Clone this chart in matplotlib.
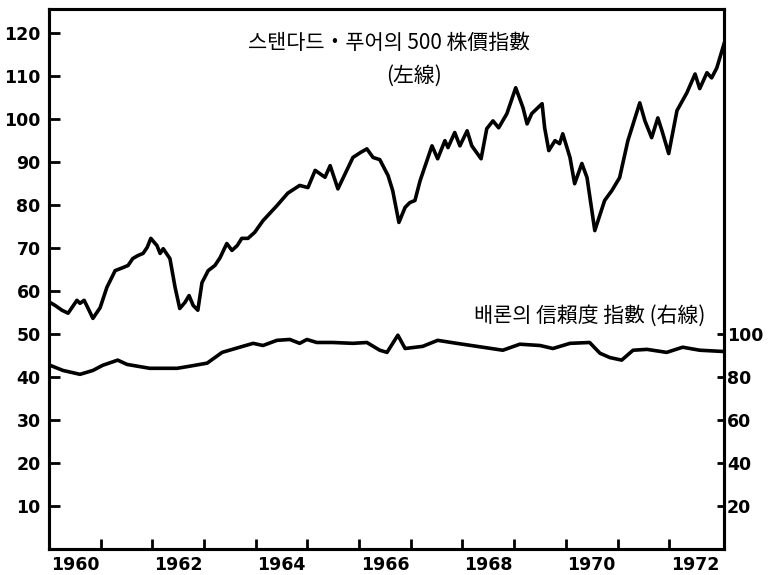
import numpy as np
import matplotlib
matplotlib.use('Agg')
import matplotlib.pyplot as plt

# S&P 500 index (left axis)
sp_years = [1960.02, 1960.12, 1960.25, 1960.37, 1960.54, 1960.60, 1960.68, 1960.75, 1960.85, 1960.99,
            1961.12, 1961.28, 1961.43, 1961.53, 1961.62, 1961.72, 1961.82, 1961.90, 1961.97, 1962.09,
            1962.15, 1962.21, 1962.34, 1962.44, 1962.53, 1962.63, 1962.71, 1962.79, 1962.88, 1962.96,
            1963.08, 1963.21, 1963.31, 1963.44, 1963.54, 1963.64, 1963.73, 1963.85, 1963.98, 1964.14,
            1964.41, 1964.62, 1964.85, 1965.01, 1965.15, 1965.34, 1965.44, 1965.59, 1965.88, 1966.02,
            1966.15, 1966.27, 1966.40, 1966.56, 1966.65, 1966.77, 1966.89, 1966.98, 1967.08, 1967.18,
            1967.41, 1967.52, 1967.66, 1967.72, 1967.85, 1967.95, 1968.09, 1968.18, 1968.36, 1968.47,
            1968.59, 1968.70, 1968.86, 1969.03, 1969.17, 1969.25, 1969.34, 1969.54, 1969.59, 1969.67,
            1969.79, 1969.88, 1969.94, 1970.08, 1970.17, 1970.31, 1970.41, 1970.56, 1970.75, 1970.89,
            1971.04, 1971.20, 1971.43, 1971.53, 1971.66, 1971.78, 1971.86, 1971.99, 1972.15, 1972.34,
            1972.50, 1972.59, 1972.73, 1972.82, 1972.92, 1973.02, 1973.06]
sp_values = [57.3, 56.6, 55.5, 54.8, 57.8, 57.1, 57.8, 56.1, 53.6, 56.1,
             60.8, 64.7, 65.4, 65.9, 67.5, 68.2, 68.7, 70.1, 72.2, 70.5,
             68.7, 69.8, 67.5, 60.8, 55.9, 57.3, 58.9, 56.6, 55.5, 61.9,
             64.7, 65.9, 67.7, 71.0, 69.4, 70.5, 72.2, 72.2, 73.6, 76.3,
             79.8, 82.7, 84.5, 84.0, 88.0, 86.4, 89.1, 83.7, 91.0, 92.1,
             93.0, 91.0, 90.5, 86.8, 83.3, 75.9, 79.4, 80.5, 81.0, 85.6,
             93.7, 90.7, 94.9, 93.3, 96.8, 93.7, 97.2, 93.7, 90.7, 97.7,
             99.5, 97.9, 101.2, 107.2, 102.6, 98.8, 101.2, 103.5, 97.9, 92.6,
             94.9, 94.2, 96.5, 91.0, 84.9, 89.6, 86.3, 74.0, 81.0, 83.3,
             86.3, 94.9, 103.7, 99.5, 95.6, 100.2, 97.2, 91.9, 101.9, 106.0,
             110.4, 107.0, 110.7, 109.5, 111.8, 115.8, 117.4]

# Barron's confidence index (right axis)
conf_years = [1960.02, 1960.27, 1960.60, 1960.85, 1961.04, 1961.33, 1961.51, 1961.95, 1962.48, 1962.73,
              1963.06, 1963.35, 1963.69, 1963.95, 1964.14, 1964.41, 1964.66, 1964.85, 1964.99, 1965.18,
              1965.49, 1965.88, 1966.15, 1966.40, 1966.54, 1966.75, 1966.89, 1967.23, 1967.52, 1967.89,
              1968.28, 1968.78, 1969.11, 1969.50, 1969.75, 1970.08, 1970.46, 1970.66, 1970.85, 1971.08,
              1971.30, 1971.57, 1971.95, 1972.26, 1972.59, 1973.06]
conf_values = [85.4, 83.0, 81.2, 83.0, 85.4, 87.8, 85.8, 84.0, 84.0, 85.0,
               86.4, 91.4, 93.8, 95.6, 94.6, 97.0, 97.4, 95.6, 97.4, 96.0,
               96.0, 95.6, 96.0, 92.4, 91.4, 99.4, 93.2, 94.2, 97.0, 95.6,
               94.2, 92.4, 95.2, 94.6, 93.2, 95.6, 96.0, 91.0, 89.0, 87.8,
               92.4, 92.8, 91.4, 93.8, 92.4, 91.8]

left_ticks = [10, 20, 30, 40, 50, 60, 70, 80, 90, 100, 110, 120]
right_ticks = [20, 40, 60, 80, 100]
year_labels = ['1960', '1962', '1964', '1966', '1968', '1970', '1972']

sp_title = '스탠다드・푸어의 500 株價指數'
sp_note = '(左線)'
conf_title = '배론의 信賴度 指數 (右線)'

plt.rcParams['font.family'] = ['Noto Sans CJK KR', 'DejaVu Sans']

fig = plt.figure(figsize=(7.69, 5.75), dpi=100)
ax = fig.add_axes([0.0637, 0.0452, 0.8778, 0.9391])
ax2 = ax.twinx()

ax.plot(sp_years, sp_values, color='black', lw=2.6, solid_joinstyle='round')
ax2.plot(conf_years, conf_values, color='black', lw=2.6, solid_joinstyle='round')

ax.set_xlim(1960, 1973.06)
ax.set_ylim(0, 125.5)
ax2.set_ylim(0, 251)

for a in (ax, ax2):
    for s in a.spines.values():
        s.set_linewidth(2.2)

tick_font = dict(family='DejaVu Sans', weight='bold', size=12.5)

ax.set_yticks(left_ticks)
ax.set_yticklabels([str(t) for t in left_ticks], **tick_font)
ax.tick_params(axis='y', direction='in', length=8, width=2, pad=6)

ax2.set_yticks(right_ticks)
ax2.set_yticklabels([str(t) for t in right_ticks], **tick_font)
ax2.tick_params(axis='y', direction='in', length=5, width=2, pad=2)

# year boundaries as ticks, labels centred in each labelled year
ax.set_xticks(np.arange(1961, 1973))
ax.set_xticklabels([])
ax.set_xticks([int(y) + 0.5 for y in year_labels], minor=True)
ax.set_xticklabels(year_labels, minor=True, **tick_font)
ax.tick_params(axis='x', which='major', direction='in', length=7, width=2)
ax.tick_params(axis='x', which='minor', length=0, pad=5)

ax.text(1963.85, 117.6, sp_title, fontsize=15, ha='left', va='center')
ax.text(1967.06, 110, sp_note, fontsize=15, ha='center', va='center')
ax.text(1972.69, 54.1, conf_title, fontsize=15, ha='right', va='center')

fig.savefig('out.png', dpi=100)
